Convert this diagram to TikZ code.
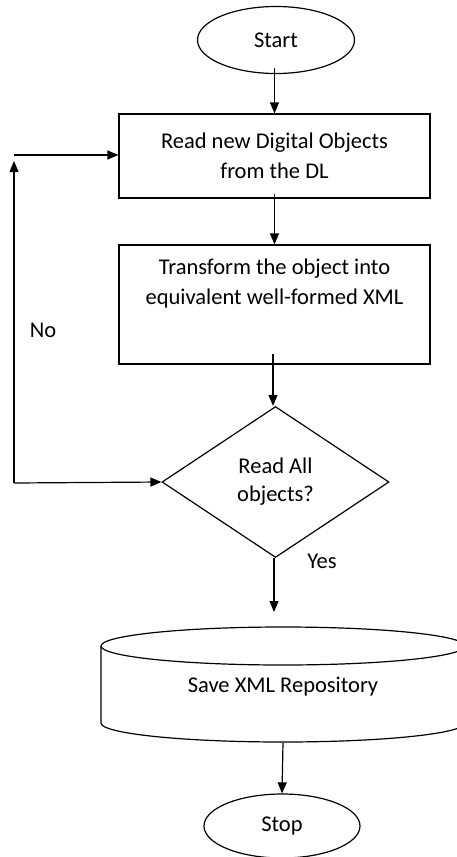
\documentclass[tikz,border=0pt]{standalone}
\usepackage{fontspec}
\setmainfont{Carlito}
\usetikzlibrary{shapes.geometric,arrows.meta,calc}
\begin{document}
\begin{tikzpicture}[x=1pt,y=-1pt,
  line width=1.2pt,
  every node/.style={font=\fontsize{22.5}{30}\selectfont, inner sep=0pt},
  term/.style={draw, ellipse, minimum width=157pt, minimum height=67pt},
  proc/.style={draw, rectangle, minimum width=311pt},
  decide/.style={draw, diamond, minimum width=227pt, minimum height=151pt, align=center},
  conn/.style={-{Triangle[length=11pt,width=9pt]}}
]
\useasboundingbox (0,0) rectangle (457,857);

\node[term] (start) at (276,40) {Start};
\node[proc, minimum height=84pt, align=center] (read) at (274.5,156) {Read new Digital Objects\\from the DL};
\node[proc, minimum height=119pt] (trans) at (274.5,304.5) {};
\node[align=center] (transtxt) at (274.5,283) {Transform the object into\\equivalent well-formed XML};
\node[decide, font=\fontsize{22.5}{28}\selectfont] (dec) at (275.5,482) {Read All\\objects?};

% cylinder
\draw (101,646) -- (101,723) arc[start angle=180, end angle=0, x radius=182, y radius=19] -- (465,646);
\draw (283,646) ellipse[x radius=182, y radius=19];
\node (repo) at (283,687) {Save XML Repository};
\coordinate (repotop) at (274,612);
\coordinate (repobot) at (283,743);

\node[term, minimum width=156pt, minimum height=64pt] (stop) at (282,826) {Stop};

% connectors
\draw[conn] ([yshift=6pt]start.south -| read.north) -- (read.north);
\draw[conn] ([yshift=5pt]read.south) -- (trans.north);
\draw[conn] ([xshift=-1.5pt,yshift=11pt]trans.south) -- ([xshift=-1.5pt]trans.south |- dec.north);
\draw[conn] ([xshift=-1.5pt]dec.south) -- (repotop);
\draw[conn] (repobot) -- (stop.north);

% No loop
\coordinate (lb) at (14,483);
\coordinate (lt) at (14,155);
\draw[conn] (lb) -- (dec.west);
\draw[conn] (lb) -- ([yshift=-6pt]lt);
\draw[conn] (lt) -- (lt -| read.west);

\node (no) at (43,330) {No};
\node (yes) at (322,561) {Yes};
\end{tikzpicture}
\end{document}
